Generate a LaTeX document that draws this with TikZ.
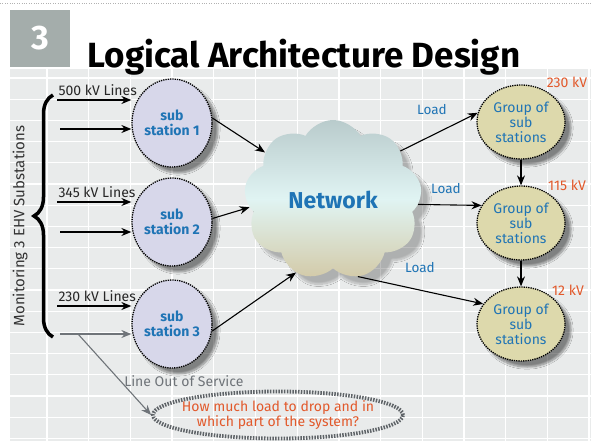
\documentclass[tikz,border=0pt]{standalone}
\usepackage{fontspec}
\setmainfont{Fira Sans}
\usetikzlibrary{shapes.geometric,shapes.symbols,arrows.meta,decorations.pathreplacing,shadows.blur}
\definecolor{panel}{HTML}{E9EBEB}
\definecolor{sqgray}{HTML}{A4ADAB}
\definecolor{lav}{HTML}{D7D7EA}
\definecolor{khaki}{HTML}{DDD9AC}
\definecolor{tblue}{HTML}{1F74B5}
\definecolor{orng}{HTML}{E2592B}
\definecolor{grtxt}{HTML}{6F7479}
\definecolor{cltop}{HTML}{B9CBCC}
\definecolor{clmid}{HTML}{E0F4F3}
\definecolor{clbot}{HTML}{D3CAA8}

\begin{document}
\begin{tikzpicture}[x=1pt,y=-1pt,
  shad/.style={blur shadow={shadow xshift=6pt,shadow yshift=-6pt,shadow blur steps=10,shadow opacity=45}},
  sub/.style={ellipse,draw,densely dotted,line width=1.3pt,fill=lav,minimum width=80pt,minimum height=88pt,
    inner sep=0pt,align=center,text=tblue,font=\fontsize{14}{15}\selectfont\bfseries,shad},
  grp/.style={ellipse,draw,densely dotted,line width=1.3pt,fill=khaki,minimum width=88pt,minimum height=74pt,
    inner sep=0pt,align=center,text=tblue,font=\fontsize{14}{15}\selectfont,shad},
  arr/.style={-{Stealth[length=10pt,width=8pt]},line width=1.1pt},
  garr/.style={arr,grtxt},
  lines/.style={font=\fontsize{14}{14}\selectfont,text=black!85,inner xsep=1pt,inner ysep=4pt},
  load/.style={font=\fontsize{13.5}{14}\selectfont,text=tblue},
  volt/.style={font=\fontsize{14}{14}\selectfont,text=orng},
]
\useasboundingbox (0,0) rectangle (593,441);
\draw[gray!60,dotted] (0,3) -- (593,3);
\fill[panel] (10,69) rectangle (591,441);
\foreach \k in {0,...,13}
  \draw[white,line width=1.3pt] ({47+41.7*\k},69) -- ({47+41.7*\k},441);
\foreach \k in {0,...,17}
  \draw[white,line width=1.3pt] (10,{78+21.2*\k}) -- (591,{78+21.2*\k});

\node[fill=sqgray,minimum width=60pt,minimum height=57pt,text=white,font=\fontsize{34}{34}\selectfont\bfseries] (num) at (40,38.5) {3};
\node[anchor=base,font=\fontsize{35}{35}\selectfont\bfseries] (title) at (304,68) {Logical Architecture Design};

\node[rotate=90,font=\fontsize{15}{15}\selectfont,text=black!80] (mon) at (20,226) {Monitoring 3 EHV Substations};
\draw[line width=3.5pt,decorate,decoration={brace,amplitude=19pt}] (53,337) -- (53,95);

\node[sub] (s1) at (172,123) {sub\\station 1};
\node[sub] (s2) at (172,222) {sub\\station 2};
\node[sub] (s3) at (172,324) {sub\\station 3};

\node[cloud,cloud puffs=9,cloud puff arc=120,aspect=1.1,minimum width=178pt,minimum height=160pt,
  top color=cltop,bottom color=clbot,middle color=clmid,text=tblue,font=\fontsize{23}{23}\selectfont\bfseries,
  blur shadow={shadow xshift=8pt,shadow yshift=-8pt,shadow blur steps=12,shadow opacity=25}] (net) at (333,200) {Network};

\node[grp] (g1) at (521,122) {Group of\\sub\\stations};
\node[grp] (g2) at (521,223) {Group of\\sub\\stations};
\node[grp] (g3) at (521,324) {Group of\\sub\\stations};

\coordinate (i1a) at (57,100);
\coordinate (i1b) at (60,129);
\coordinate (i2a) at (57,202);
\coordinate (i2b) at (60,232);
\coordinate (i3a) at (57,306);
\coordinate (o1) at (60,334);
\coordinate (o2) at (78,334);
\draw[arr] (i1a) -- (i1a -| s1.west) node[pos=0,anchor=south west,lines] {500 kV Lines};
\draw[arr] (i1b) -- (i1b -| s1.west);
\draw[arr] (i2a) -- (i2a -| s2.west) node[pos=0,anchor=south west,lines] {345 kV Lines};
\draw[arr] (i2b) -- (i2b -| s2.west);
\draw[arr] (i3a) -- (i3a -| s3.west) node[pos=0,anchor=south west,lines] {230 kV Lines};
\draw[garr] (o1) -- (o1 -| s3.west);

\draw[arr] (s1.7) -- (net.145);
\draw[arr] (s2.5) -- (net.185);
\draw[arr] (s3.-10) -- (net.243);
\draw[arr] (net.36) -- (g1.168);
\draw[arr] (net.-3) -- (g2.156);
\draw[arr] (net.-72) -- (g3.152);
\draw[arr] (g1.south) -- (g2.north);
\draw[arr] (g2.south) -- (g3.north);

\node[load] (l1) at (432,110) {Load};
\node[load] (l2) at (446,189) {Load};
\node[load] (l3) at (420,268) {Load};
\node[volt] (v1) at (567,82) {230 kV};
\node[volt] (v2) at (567,185) {115 kV};
\node[volt] (v3) at (568,290) {12 kV};

\node[ellipse,draw=grtxt!85!black,line width=3.8pt,dash pattern=on 1.5pt off 1.3pt,minimum width=250pt,minimum height=47pt,
  inner xsep=-8pt,inner ysep=0pt,align=center,text=orng,font=\fontsize{14}{15}\selectfont] (q) at (278,415) {How much load to drop and in\\which part of the system?};
\draw[garr] (o2) -- (q.west) node[pos=0.58,anchor=west,text=grtxt,font=\fontsize{14}{14}\selectfont] {Line Out of Service};
\end{tikzpicture}
\end{document}
